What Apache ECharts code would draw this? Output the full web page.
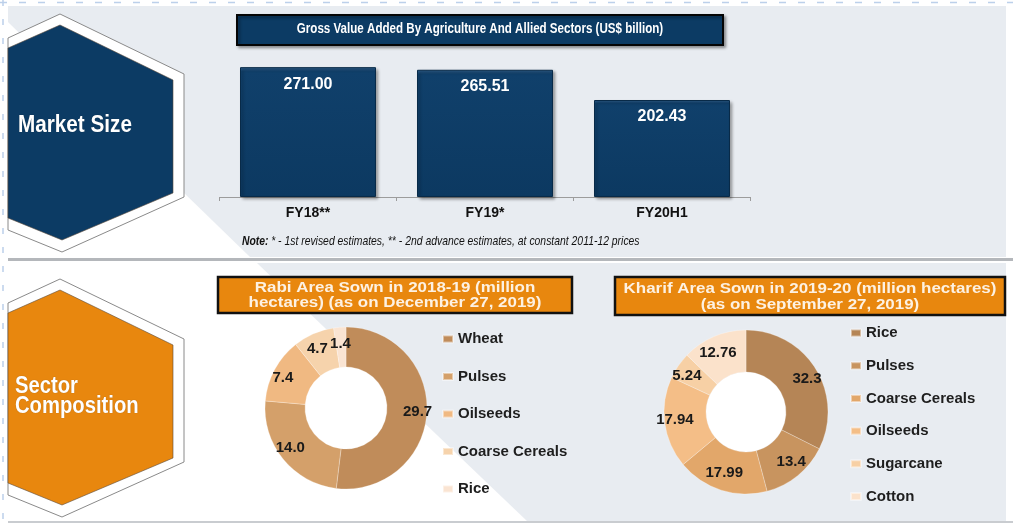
<!DOCTYPE html>
<html><head><meta charset="utf-8">
<script src="https://cdn.jsdelivr.net/npm/echarts@6/dist/echarts.min.js"></script>
<style>html,body{margin:0;padding:0;background:#fff}#c{width:1013px;height:524px}</style>
</head><body><div id="c"></div>
<script>
const barCategories = ['FY18**', 'FY19*', 'FY20H1'];
const barValues = [271.00, 265.51, 202.43];
const rabiCategories = ['Wheat', 'Pulses', 'Oilseeds', 'Coarse Cereals', 'Rice'];
const rabiValues = [29.7, 14.0, 7.4, 4.7, 1.4];
const kharifCategories = ['Rice', 'Pulses', 'Coarse Cereals', 'Oilseeds', 'Sugarcane', 'Cotton'];
const kharifValues = [32.3, 13.4, 17.99, 17.94, 5.24, 12.76];
const rabiColors = ['#c08c5a', '#d4a06a', '#f0b982', '#f6d3ac', '#fae4d2'];
const kharifColors = ['#b58556', '#c8945f', '#e2a76a', '#f4be87', '#f7d0a5', '#fbe2cb'];

const FONT = '"Liberation Sans", Arial, sans-serif';
const NAVY = '#0c3b64';
const ORANGE = '#e8870e';
const PANEL = '#e8ecf1';
const KP = 'K|';
const RABI_C = [346, 408];
const KHARIF_C = [746, 412];

const chart = echarts.init(document.getElementById('c'), null, {renderer: 'canvas'});

function hexagon(dy, fill) {
  return [
    {type: 'polygon', z: 1, shape: {points: [[8,38+dy],[60,14+dy],[184,74+dy],[184,197+dy],[62,252+dy],[8,230+dy]]},
     style: {fill: '#ffffff', stroke: '#8a8a8a', lineWidth: 1}},
    {type: 'polygon', z: 2, shape: {points: [[8,48+dy],[60,25+dy],[173,80+dy],[173,193+dy],[62,240+dy],[8,218+dy]]},
     style: {fill: fill, stroke: '#5a4a3a', lineWidth: 0.6}}
  ];
}

const graphics = [
  // background panels
  {type: 'polygon', z: -5, shape: {points: [[8,6],[1006,6],[1006,257],[250,257],[8,22]]}, style: {fill: PANEL}},
  {type: 'polygon', z: -5, shape: {points: [[257,263],[1006,263],[1006,521],[527,521]]}, style: {fill: PANEL}},
  {type: 'line', z: -4, shape: {x1: 8, y1: 259.5, x2: 1013, y2: 259.5}, style: {stroke: '#b4b7bb', lineWidth: 3}},
  {type: 'line', z: -4, shape: {x1: 8, y1: 522, x2: 1013, y2: 522}, style: {stroke: '#c9ccd0', lineWidth: 2}},
  {type: 'line', z: -4, shape: {x1: 0, y1: 2.5, x2: 1013, y2: 2.5}, style: {stroke: '#bcd0ea', lineWidth: 1.5, lineDash: [7, 12]}},
  {type: 'line', z: -4, shape: {x1: 3, y1: 0, x2: 3, y2: 524}, style: {stroke: '#bcd0ea', lineWidth: 1.5, lineDash: [6, 13]}},
  ...hexagon(0, NAVY),
  ...hexagon(265, ORANGE),
  {type: 'text', z: 3, x: 18, y: 126, scaleX: 0.9, style: {x: 0, y: 0, text: 'Market Size', fill: '#ffffff', font: 'bold 23px ' + FONT,
    verticalAlign: 'middle', textShadowColor: 'rgba(0,0,0,0.35)', textShadowBlur: 1}},
  {type: 'text', z: 3, x: 15, y: 397, scaleX: 0.88, style: {x: 0, y: 0, text: 'Sector\nComposition', fill: '#ffffff', font: 'bold 23px ' + FONT,
    lineHeight: 20, verticalAlign: 'middle', textShadowColor: 'rgba(0,0,0,0.3)', textShadowBlur: 1}},
  // top title box
  {type: 'rect', z: 3, shape: {x: 237, y: 15, width: 486, height: 30},
   style: {fill: NAVY, stroke: '#050505', lineWidth: 2, shadowColor: 'rgba(0,0,0,0.35)', shadowBlur: 3, shadowOffsetX: 2, shadowOffsetY: 2}},
  {type: 'text', z: 4, x: 480, y: 29, scaleX: 0.84, style: {x: 0, y: 0, text: 'Gross Value Added By Agriculture And Allied Sectors (US$ billion)',
    fill: '#ffffff', font: 'bold 13.8px ' + FONT, align: 'center', verticalAlign: 'middle'}},
  // note
  {type: 'text', z: 3, x: 242, y: 241, scaleX: 0.77, style: {x: 0, y: 0, verticalAlign: 'middle',
    text: '{b|Note:} {n|* - 1st revised estimates, ** - 2nd advance estimates, at constant 2011-12 prices}',
    rich: {b: {font: 'italic bold 13.5px ' + FONT, fill: '#111'}, n: {font: 'italic 13.5px ' + FONT, fill: '#111'}}}},
  // rabi title box
  {type: 'rect', z: 3, shape: {x: 218, y: 277, width: 354, height: 36},
   style: {fill: ORANGE, stroke: '#111', lineWidth: 2.5}},
  {type: 'text', z: 4, x: 395, y: 295.5, scaleX: 1.21, style: {x: 0, y: 0, text: 'Rabi Area Sown in 2018-19 (million\nhectares) (as on December 27, 2019)',
    fill: '#fdf1e2', font: 'bold 14px ' + FONT, lineHeight: 15.5, align: 'center', verticalAlign: 'middle'}},
  // kharif title box
  {type: 'rect', z: 3, shape: {x: 615, y: 277, width: 390, height: 38},
   style: {fill: ORANGE, stroke: '#111', lineWidth: 2.5}},
  {type: 'text', z: 4, x: 810, y: 297, scaleX: 1.21, style: {x: 0, y: 0, text: 'Kharif Area Sown in 2019-20 (million hectares)\n(as on September 27, 2019)',
    fill: '#fdf1e2', font: 'bold 14px ' + FONT, lineHeight: 16, align: 'center', verticalAlign: 'middle'}}
];

const legendText = {fontSize: 15, fontWeight: 'bold', color: '#1e1e1e', fontFamily: FONT, lineHeight: 16};
const ringLabel = {show: true, position: 'inside', color: '#1a1a1a', fontSize: 15, fontWeight: 'bold', fontFamily: FONT};
// spread ring labels slightly sideways, as in the (horizontally wider) original rings
function spread(center) {
  return function (p) {
    const mid = p.labelRect.x + p.labelRect.width / 2;
    return {dx: (mid - center[0]) * 0.12, hideOverlap: false};
  };
}

const option = {
  animation: false,
  backgroundColor: '#ffffff',
  graphic: {elements: graphics},
  grid: {left: 219.5, width: 531, top: 53.25, height: 143.75},
  xAxis: {
    type: 'category', data: barCategories,
    axisLine: {lineStyle: {color: '#9c9c9c', width: 1}},
    axisTick: {show: true, length: 4, lineStyle: {color: '#9c9c9c'}},
    axisLabel: {margin: 9, fontSize: 14, fontWeight: 'bold', color: '#111', fontFamily: FONT}
  },
  yAxis: {type: 'value', min: 0, max: 300, show: false},
  legend: [
    {orient: 'vertical', left: 437, top: 326, itemWidth: 10, itemHeight: 7, icon: 'rect', itemGap: 21.5,
     selectedMode: false, data: rabiCategories, textStyle: legendText},
    {orient: 'vertical', left: 845, top: 320, itemWidth: 10, itemHeight: 7, icon: 'rect', itemGap: 16.7,
     selectedMode: false, data: kharifCategories.map(n => KP + n), textStyle: legendText,
     formatter: n => n.slice(KP.length)}
  ],
  series: [
    {
      type: 'bar', data: barValues, barWidth: 136,
      itemStyle: {
        color: new echarts.graphic.LinearGradient(0, 0, 0, 1, [
          {offset: 0, color: '#2e5d8a'}, {offset: 0.035, color: '#10406b'}, {offset: 1, color: '#0c3961'}]),
        borderColor: '#082a48', borderWidth: 1,
        shadowColor: 'rgba(0,0,0,0.35)', shadowBlur: 3, shadowOffsetX: 2, shadowOffsetY: 2
      },
      label: {show: true, position: 'insideTop', distance: 9, color: '#ffffff', fontSize: 16, fontWeight: 'bold',
        fontFamily: FONT, formatter: p => p.value.toFixed(2)}
    },
    {
      type: 'pie', center: RABI_C, radius: [0, 41], silent: true, z: 1,
      label: {show: false}, labelLine: {show: false},
      data: [{value: 1, name: '_rabiHole', itemStyle: {color: '#ffffff'}}]
    },
    {
      type: 'pie', center: RABI_C, radius: [41, 81], startAngle: 90, clockwise: true, silent: true,
      avoidLabelOverlap: false, labelLayout: spread(RABI_C),
      data: rabiCategories.map((n, i) => ({name: n, value: rabiValues[i], itemStyle: {color: rabiColors[i]}})),
      itemStyle: {borderColor: 'rgba(255,255,255,0.45)', borderWidth: 0.6},
      label: Object.assign({}, ringLabel, {formatter: p => p.value.toFixed(1)}),
      labelLine: {show: false}
    },
    {
      type: 'pie', center: KHARIF_C, radius: [0, 40], silent: true, z: 1,
      label: {show: false}, labelLine: {show: false},
      data: [{value: 1, name: '_kharifHole', itemStyle: {color: '#ffffff'}}]
    },
    {
      type: 'pie', center: KHARIF_C, radius: [40, 82], startAngle: 90, clockwise: true, silent: true,
      avoidLabelOverlap: false, labelLayout: spread(KHARIF_C),
      data: kharifCategories.map((n, i) => ({name: KP + n, value: kharifValues[i], itemStyle: {color: kharifColors[i]}})),
      itemStyle: {borderColor: 'rgba(255,255,255,0.45)', borderWidth: 0.6},
      label: Object.assign({}, ringLabel, {formatter: p => String(p.value)}),
      labelLine: {show: false}
    }
  ]
};
chart.setOption(option);
</script>
</body></html>
